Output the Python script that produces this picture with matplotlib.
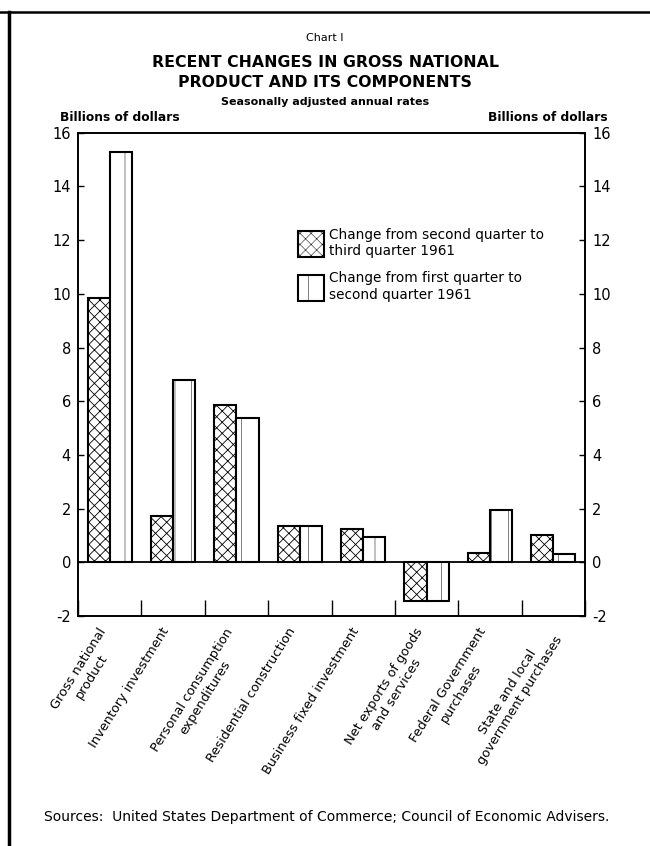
import numpy as np
import matplotlib
matplotlib.use("Agg")
import matplotlib.pyplot as plt
from matplotlib.lines import Line2D
from matplotlib.ticker import MultipleLocator
from matplotlib.transforms import ScaledTranslation

# Data (billions of dollars, seasonally adjusted annual rates)
categories = [
    "Gross national\nproduct",
    "Inventory investment",
    "Personal consumption\nexpenditures",
    "Residential construction",
    "Business fixed investment",
    "Net exports of goods\nand services",
    "Federal Government\npurchases",
    "State and local\ngovernment purchases",
]
q2_to_q3 = [9.85, 1.72, 5.85, 1.35, 1.25, -1.43, 0.35, 1.02]
q1_to_q2 = [15.3, 6.8, 5.38, 1.35, 0.93, -1.43, 1.94, 0.32]
legend_labels = [
    "Change from second quarter to\nthird quarter 1961",
    "Change from first quarter to\nsecond quarter 1961",
]
y_ticks = [-2, 0, 2, 4, 6, 8, 10, 12, 14, 16]

plt.rcParams['font.family'] = ['DejaVu Sans']
plt.rcParams['hatch.linewidth'] = 0.6

fig = plt.figure(figsize=(6.5, 8.46), dpi=100)
ax = fig.add_axes([0.12, 0.272, 0.78, 0.571])

x = np.arange(len(categories))
w = 0.35
b1 = ax.bar(x - w / 2, q2_to_q3, w, facecolor='white', edgecolor='black',
            linewidth=1.5, hatch='xxx', label=legend_labels[0])
plt.rcParams['hatch.linewidth'] = 0.35
b2 = ax.bar(x + w / 2, q1_to_q2, w, facecolor='white', edgecolor='black',
            linewidth=1.5, hatch='|', label=legend_labels[1])

ax.axhline(0, color='black', linewidth=1.3)
ax.set_xlim(-0.5, len(categories) - 0.5)
ax.set_ylim(-2, 16)
ax.set_yticks(y_ticks)
ax.set_yticklabels([str(t) for t in y_ticks])

# category labels at centers, divider marks between groups
ax.set_xticks(x)
ax.set_xticklabels(categories, rotation=58, ha='right', va='top',
                   rotation_mode='anchor', multialignment='center',
                   fontsize=9.3)
ax.tick_params(axis='x', which='major', length=0, pad=7)
shift = ScaledTranslation(-0.12, 0, fig.dpi_scale_trans)
for lab in ax.get_xticklabels():
    lab.set_transform(lab.get_transform() + shift)
ax.xaxis.set_minor_locator(MultipleLocator(1, offset=0.5))
ax.tick_params(axis='x', which='minor', direction='in', length=11.5,
               width=1.0, bottom=True, top=False)
ax.tick_params(axis='y', direction='in', length=4, width=1.0,
               labelsize=10.5, pad=5)

ax2 = ax.twinx()
ax2.set_ylim(-2, 16)
ax2.set_yticks(y_ticks)
ax2.set_yticklabels([str(t) for t in y_ticks])
ax2.tick_params(axis='y', direction='in', length=4, width=1.0,
                labelsize=10.5, pad=5)

for a in (ax, ax2):
    for s in a.spines.values():
        s.set_linewidth(1.2)

leg = ax.legend(handles=[b1, b2], loc='upper left',
                bbox_to_anchor=(0.42, 0.818), frameon=False,
                fontsize=9.8, handlelength=1.95, handleheight=2.6,
                handletextpad=0.35, labelspacing=1.0, borderpad=0)

# titles
fig.text(0.5, 0.955, "Chart I", ha='center', va='center', fontsize=8)
fig.text(0.5, 0.926, "RECENT CHANGES IN GROSS NATIONAL", ha='center',
         va='center', fontsize=11.3, fontweight='bold')
fig.text(0.5, 0.902, "PRODUCT AND ITS COMPONENTS", ha='center',
         va='center', fontsize=11.3, fontweight='bold')
fig.text(0.5, 0.880, "Seasonally adjusted annual rates", ha='center',
         va='center', fontsize=8, fontweight='bold')
fig.text(0.093, 0.861, "Billions of dollars", ha='left', va='center',
         fontsize=8.8, fontweight='bold')
fig.text(0.935, 0.861, "Billions of dollars", ha='right', va='center',
         fontsize=8.8, fontweight='bold')
fig.text(0.503, 0.034,
         "Sources:  United States Department of Commerce; Council of Economic Advisers.",
         ha='center', va='center', fontsize=10)

# page frame: top rule and heavy left rule
fig.add_artist(Line2D([0, 1], [0.986, 0.986], transform=fig.transFigure,
                      color='black', linewidth=1.8))
fig.add_artist(Line2D([0.014, 0.014], [0, 0.986], transform=fig.transFigure,
                      color='black', linewidth=2.5))

fig.savefig("out.png", dpi=100)
